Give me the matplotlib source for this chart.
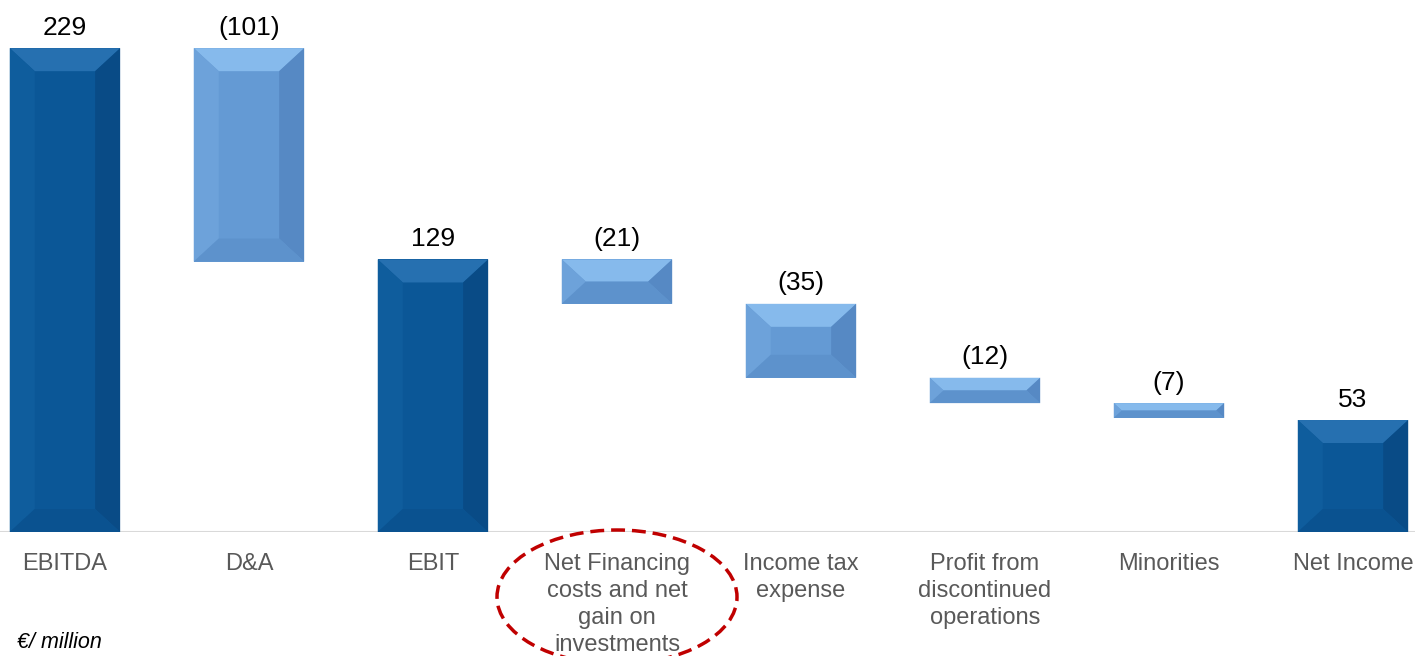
import matplotlib.pyplot as plt
from matplotlib.patches import Polygon, Ellipse

plt.rcParams['font.family'] = ['Liberation Sans', 'DejaVu Sans']

# données du graphique en cascade
categories = ["EBITDA", "D&A", "EBIT", "Net Financing\ncosts and net\ngain on\ninvestments",
              "Income tax\nexpense", "Profit from\ndiscontinued\noperations", "Minorities", "Net Income"]
values = [229, -101, 129, -21, -35, -12, -7, 53]
is_total = [True, False, True, False, False, False, False, True]
value_labels = ["229", "(101)", "129", "(21)", "(35)", "(12)", "(7)", "53"]

dark = dict(main="#0B5797", top="#2670B0", left="#0F5D9D", right="#094B86", bottom="#0A5290")
light = dict(main="#649AD4", top="#86BAEC", left="#6DA2DA", right="#5689C4", bottom="#5D92CC")

fig = plt.figure(figsize=(14.15, 6.56), dpi=100)
ax = fig.add_axes([0, 124 / 656, 1, 532 / 656])
ax.set_xlim(-0.353, 7.337)
ax.set_ylim(0, 251.8)
ax.axis('off')
ax.axhline(0, color="#D9D9D9", lw=1.5, zorder=1)

w = 0.6
bx = 25 / 184      # taille du biseau (unités x)
by = 23 / 2.113    # taille du biseau (unités y)

running = 0
for i, v in enumerate(values):
    if is_total[i]:
        bottom, top = 0, v
        running = v
        c = dark
    else:
        top = running
        bottom = running + v
        running = bottom
        c = light
    x0, x1 = i - w / 2, i + w / 2
    h = top - bottom
    b_y = min(by, h / 2)
    b_x = min(bx, b_y * 2.113 / 184 * 25 / 23)
    ax.add_patch(Polygon([(x0, bottom), (x1, bottom), (x1, top), (x0, top)], closed=True,
                         facecolor=c["main"], edgecolor="none", zorder=2))
    ax.add_patch(Polygon([(x0, top), (x1, top), (x1 - b_x, top - b_y), (x0 + b_x, top - b_y)],
                         facecolor=c["top"], edgecolor="none", zorder=3))
    ax.add_patch(Polygon([(x0, bottom), (x0, top), (x0 + b_x, top - b_y), (x0 + b_x, bottom + b_y)],
                         facecolor=c["left"], edgecolor="none", zorder=3))
    ax.add_patch(Polygon([(x1, bottom), (x1, top), (x1 - b_x, top - b_y), (x1 - b_x, bottom + b_y)],
                         facecolor=c["right"], edgecolor="none", zorder=3))
    ax.add_patch(Polygon([(x0, bottom), (x1, bottom), (x1 - b_x, bottom + b_y), (x0 + b_x, bottom + b_y)],
                         facecolor=c["bottom"], edgecolor="none", zorder=3))
    ax.annotate(value_labels[i], (i, top), xytext=(0, 6), textcoords="offset points",
                ha="center", va="bottom", fontsize=19, color="black")
    ax.text(i, -10, categories[i], ha="center", va="top", fontsize=17, color="#595959",
            linespacing=1.3)

fig.text(17 / 1415, 1 - 642 / 656, "€/ million", fontsize=15.5, style="italic",
         ha="left", va="center", color="black")

# cercle en pointillés autour de la catégorie
ell = Ellipse((617 / 1415, 1 - 597 / 656), 240 / 1415, 134 / 656, transform=fig.transFigure,
              fill=False, edgecolor="#C00000", lw=2.5, linestyle=(0, (4, 2)), clip_on=False)
fig.patches.append(ell)

fig.savefig("out.png", dpi=100)
